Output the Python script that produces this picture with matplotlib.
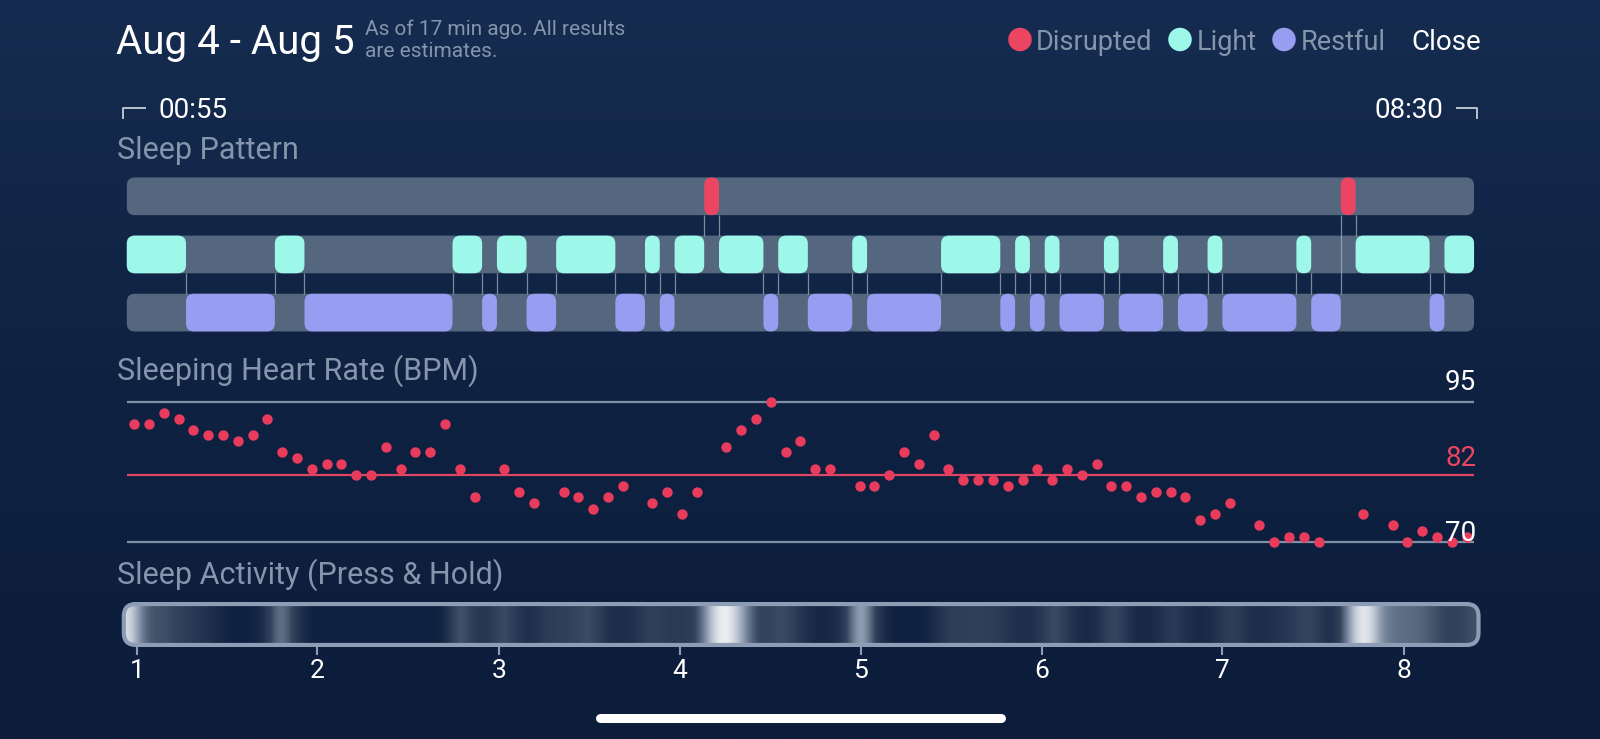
import numpy as np
import matplotlib
matplotlib.use("Agg")
import matplotlib.pyplot as plt
from matplotlib.patches import FancyBboxPatch, Ellipse
from matplotlib.colors import LinearSegmentedColormap
from matplotlib.lines import Line2D

plt.rcParams['font.family'] = ['Roboto', 'DejaVu Sans']

# ---------------- data ----------------
title = "Aug 4 - Aug 5"
subtitle = ["As of 17 min ago. All results", "are estimates."]
legend_labels = ["Disrupted", "Light", "Restful"]
close_label = "Close"
start_label, end_label = "00:55", "08:30"
section_titles = ["Sleep Pattern", "Sleeping Heart Rate (BPM)", "Sleep Activity (Press & Hold)"]
total_minutes = 455  # 00:55 -> 08:30

# sleep stages: boundaries (minutes since 00:55) and stage codes (L light, R restful, D disrupted)
stage_bounds = [0, 20, 50, 60, 110, 120, 125, 135, 145, 165, 175, 180, 185, 195, 200,
                215, 220, 230, 245, 250, 275, 295, 300, 305, 310, 315, 330, 335, 350,
                355, 365, 370, 395, 400, 410, 415, 440, 445, 455]
stage_codes = list("LRLRLRLRLRLRL" + "D" + "LRLRLRLRLRLRLRLRLRLR" + "D" + "LRL")

# heart rate every 5 minutes (None = no reading)
hr_interval = 5
hr_offset = 2.5
hr_bpm = [91, 91, 93, 92, 90, 89, 89, 88, 89, 92,
          86, 85, 83, 84, 84, 82, 82, 87, 83, 86,
          86, 91, 83, 78, None, 83, 79, 77, None, 79,
          78, 76, 78, 80, None, 77, 79, 75, 79, None,
          87, 90, 92, 95, 86, 88, 83, 83, None, 80,
          80, 82, 86, 84, 89, 83, 81, 81, 81, 80,
          81, 83, 81, 83, 82, 84, 80, 80, 78, 79,
          79, 78, 74, 75, 77, None, 73, 70, 71, 71,
          70, None, None, 75, None, 73, 70, 72, 71, 70,
          71]
hr_ref_values = [95, 82, 70]
hr_ref_labels = ["95", "82", "70"]

# sleep activity intensity (0..1) every 5 minutes
activity = [0.9, 0.35, 0.35, 0.3, 0.2, 0.15, 0.05, 0.0, 0.0, 0.1,
            0.6, 0.2, 0.0, 0.0, 0.0, 0.0, 0.0, 0.0, 0.0, 0.0,
            0.0, 0.0, 0.45, 0.2, 0.15, 0.4, 0.15, 0.1, 0.25, 0.25,
            0.3, 0.35, 0.1, 0.1, 0.15, 0.3, 0.2, 0.2, 0.25, 0.85,
            1.0, 0.7, 0.25, 0.3, 0.35, 0.15, 0.05, 0.05, 0.2, 0.85,
            0.2, 0.0, 0.0, 0.0, 0.1, 0.25, 0.25, 0.25, 0.25, 0.15,
            0.1, 0.15, 0.4, 0.15, 0.05, 0.1, 0.4, 0.1, 0.05, 0.1,
            0.25, 0.1, 0.05, 0.15, 0.3, 0.1, 0.1, 0.15, 0.2, 0.35,
            0.15, 0.1, 0.8, 1.0, 0.55, 0.45, 0.45, 0.4, 0.3, 0.25,
            0.35]
tick_positions = [3.4, 64.3, 125.6, 186.7, 247.8, 309.0, 369.9, 431.3]
tick_labels = ["1", "2", "3", "4", "5", "6", "7", "8"]

# ---------------- style ----------------
C_D, C_L, C_R = '#ec4562', '#9ef8ea', '#979df0'
stage_color = {'D': C_D, 'L': C_L, 'R': C_R}
stage_row = {'R': 0, 'L': 1, 'D': 2}
C_ROW = '#55677e'
C_GREY = '#8595ab'
C_LINE = '#7d90a8'
C_HR = '#e93c5c'

W, H = 1600, 739
fig = plt.figure(figsize=(16, 7.39), dpi=100)


def fx(px):
    return px / W


def fy(py):
    return 1 - py / H


# background gradient
bg = fig.add_axes([0, 0, 1, 1], zorder=-10)
bg_cmap = LinearSegmentedColormap.from_list('bg', ['#152c50', '#0f2242', '#0c1d3a'])
bg.imshow(np.linspace(0, 1, 256).reshape(-1, 1), aspect='auto', cmap=bg_cmap,
          extent=(0, 1, 0, 1), origin='upper')
bg.set_axis_off()

X_LEFT_PX, X_RIGHT_PX = 110, 1490
PX0, PX_PER_MIN = 126.8, 2.961
XLIM = ((X_LEFT_PX - PX0) / PX_PER_MIN, (X_RIGHT_PX - PX0) / PX_PER_MIN)
SX = (XLIM[1] - XLIM[0]) / (X_RIGHT_PX - X_LEFT_PX)  # minutes per px


def add_panel(top_px, bottom_px):
    ax = fig.add_axes([fx(X_LEFT_PX), fy(bottom_px), (X_RIGHT_PX - X_LEFT_PX) / W,
                       (bottom_px - top_px) / H])
    ax.set_xlim(*XLIM)
    ax.patch.set_alpha(0)
    return ax


def rbox(ax, x0, x1, y0, h, m, r_px, **kw):
    w = x1 - x0
    r = min(r_px * SX, w / 2 * 0.999, (h / m) / 2 * 0.999)
    p = FancyBboxPatch((x0, y0), w, h, boxstyle=f"round,pad=0,rounding_size={r}",
                       mutation_aspect=m, **kw)
    ax.add_patch(p)
    return p


# ---------------- header ----------------
fig.text(fx(116), fy(53.5), title, color='white', fontsize=29, va='baseline')
fig.text(fx(365), fy(35), subtitle[0], color=C_GREY, fontsize=15, va='baseline')
fig.text(fx(365), fy(57), subtitle[1], color=C_GREY, fontsize=15, va='baseline')

leg_cx = [1020, 1180, 1284]
leg_tx = [1036, 1196.5, 1300.5]
for cx, tx, lab, col in zip(leg_cx, leg_tx, legend_labels, [C_D, C_L, C_R]):
    fig.add_artist(Ellipse((fx(cx), fy(39.5)), 23.5 / W, 23.5 / H, transform=fig.transFigure,
                           color=col, lw=0))
    fig.text(fx(tx), fy(49.5), lab, color=C_GREY, fontsize=19.5, va='baseline')
fig.text(fx(1411), fy(49.5), close_label, color='white', fontsize=20, va='baseline')

fig.text(fx(158), fy(118.3), start_label, color='white', fontsize=20, va='baseline')
fig.text(fx(1443), fy(118.3), end_label, color='white', fontsize=20, va='baseline', ha='right')
for xs, ys in [([144.5, 123, 123], [107.5, 107.5, 118]),
               ([1457, 1477, 1477], [107.5, 107.5, 118])]:
    fig.add_artist(Line2D([fx(v) for v in xs], [fy(v) for v in ys], transform=fig.transFigure,
                          color='#b9c2cf', lw=1.4))

fig.text(fx(117), fy(159.3), section_titles[0], color=C_GREY, fontsize=22, va='baseline')
fig.text(fx(117), fy(379.5), section_titles[1], color=C_GREY, fontsize=22, va='baseline')
fig.text(fx(117), fy(584), section_titles[2], color=C_GREY, fontsize=22, va='baseline')

# ---------------- sleep pattern ----------------
S_TOP, S_BOT = 170, 340
ax_s = add_panel(S_TOP, S_BOT)
S_YLIM = (-0.471, 2.452)
ax_s.set_ylim(*S_YLIM)
ax_s.set_axis_off()
m_s = ((S_YLIM[1] - S_YLIM[0]) / (S_BOT - S_TOP)) / SX
row_h = 0.648

for row in [0, 1, 2]:
    rbox(ax_s, 0, total_minutes, row - row_h / 2, row_h, m_s, 8, fc=C_ROW, ec='none', lw=0, zorder=1)

for k in range(1, len(stage_codes)):
    ra, rb = stage_row[stage_codes[k - 1]], stage_row[stage_codes[k]]
    lo, hi = min(ra, rb), max(ra, rb)
    ax_s.vlines(stage_bounds[k], lo + row_h / 2, hi - row_h / 2, color='#a3adbb', lw=0.9,
                alpha=0.75, zorder=1.5)

for k, code in enumerate(stage_codes):
    row = stage_row[code]
    rbox(ax_s, stage_bounds[k], stage_bounds[k + 1], row - row_h / 2, row_h, m_s, 8,
         fc=stage_color[code], ec='none', lw=0, zorder=2)

# ---------------- heart rate ----------------
ax_h = add_panel(380, 560)
ax_h.set_ylim(66.85, 98.86)
ax_h.set_axis_off()
ref_colors = [C_LINE, '#df4663', C_LINE]
ref_text_colors = ['white', C_D, 'white']
ref_offsets_pt = [8.5, 6.0, 1.0]
ax_h.hlines(hr_ref_values, 0, total_minutes, colors=ref_colors, lw=1.6, zorder=1)
hr_t = hr_offset + hr_interval * np.arange(len(hr_bpm))
hr_v = np.array([np.nan if v is None else v for v in hr_bpm], dtype=float)
ax_h.scatter(hr_t, hr_v, s=56, color=C_HR, lw=0, zorder=3)
for val, lab, tc, off in zip(hr_ref_values, hr_ref_labels, ref_text_colors, ref_offsets_pt):
    ax_h.annotate(lab, xy=(total_minutes, val), xytext=(1.5, off), textcoords='offset points',
                  ha='right', va='baseline', color=tc, fontsize=20, zorder=4)

# ---------------- activity ----------------
A_TOP, A_BOT = 602, 647
ax_a = add_panel(A_TOP, A_BOT)
act_cmap = LinearSegmentedColormap.from_list(
    'act', [(0, '#0f2140'), (0.3, '#34465e'), (0.6, '#8493a8'), (1.0, '#ffffff')])
im = ax_a.imshow(np.array(activity)[None, :], extent=(-1, total_minutes + 1.5, 0, 1),
                 aspect='auto', cmap=act_cmap, vmin=0, vmax=1, interpolation='bicubic', zorder=1)
ax_a.set_xlim(*XLIM)
ax_a.set_ylim(0, 1)
m_a = (1.0 / (A_BOT - A_TOP)) / SX
clip = rbox(ax_a, -1, total_minutes + 1.5, 0.045, 0.91, m_a, 12, fc='none', ec='none', lw=0, zorder=0)
im.set_clip_path(clip)
rbox(ax_a, -1, total_minutes + 1.5, 0.045, 0.91, m_a, 12, fc='none', ec='#8d9db5', lw=3, zorder=3)
ax_a.set_xticks(tick_positions)
ax_a.set_xticklabels(tick_labels)
ax_a.tick_params(axis='x', direction='out', length=6, width=1.5, color='#8d9db5',
                 labelcolor='white', labelsize=19, pad=3)
ax_a.set_yticks([])
for sp in ax_a.spines.values():
    sp.set_visible(False)

# home indicator
fig.add_artist(Line2D([fx(600), fx(1001)], [fy(717.5), fy(717.5)], transform=fig.transFigure,
                      color='white', lw=6.5, solid_capstyle='round'))

fig.savefig('out.png', dpi=100)
